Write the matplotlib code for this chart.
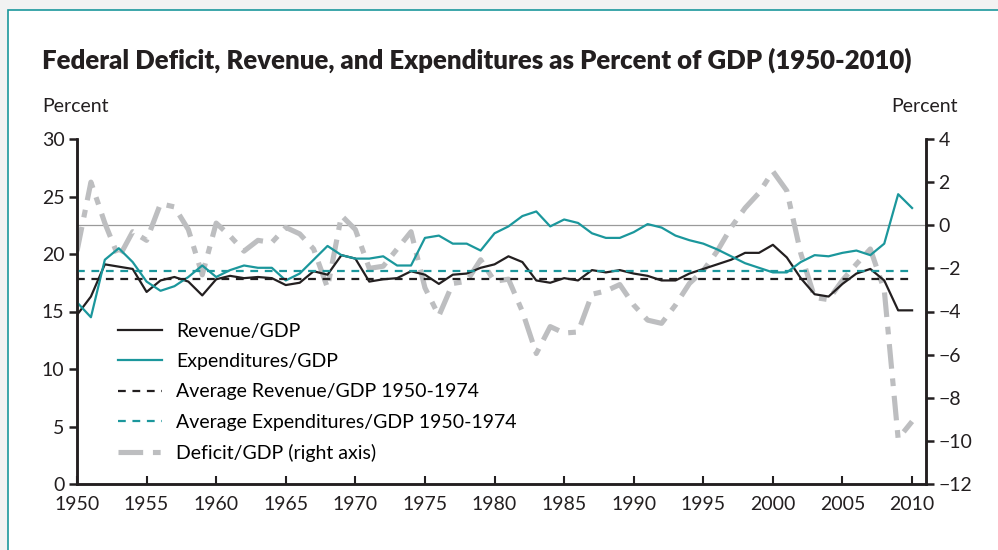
import matplotlib
matplotlib.use("Agg")
import matplotlib.pyplot as plt
from matplotlib.patches import Rectangle

plt.rcParams['font.family'] = ['Lato', 'DejaVu Sans']

years = list(range(1950, 2011))

revenue = [14.7, 16.3, 19.1, 18.9, 18.7, 16.7, 17.7, 18.0, 17.6, 16.4,
           17.8, 18.1, 17.9, 18.0, 17.9, 17.3, 17.5, 18.5, 18.2, 19.9,
           19.6, 17.6, 17.8, 17.9, 18.5, 18.2, 17.4, 18.2, 18.3, 18.8,
           19.1, 19.8, 19.3, 17.7, 17.5, 17.9, 17.7, 18.6, 18.4, 18.6,
           18.3, 18.1, 17.7, 17.7, 18.3, 18.7, 19.1, 19.5, 20.1, 20.1,
           20.8, 19.7, 17.9, 16.5, 16.3, 17.4, 18.3, 18.7, 17.7, 15.1,
           15.1]

expenditures = [15.8, 14.5, 19.5, 20.5, 19.3, 17.6, 16.8, 17.2, 18.0, 19.0,
                18.0, 18.6, 19.0, 18.8, 18.8, 17.7, 18.3, 19.5, 20.7, 19.9,
                19.6, 19.6, 19.8, 19.0, 19.0, 21.4, 21.6, 20.9, 20.9, 20.3,
                21.8, 22.4, 23.3, 23.7, 22.4, 23.0, 22.7, 21.8, 21.4, 21.4,
                21.9, 22.6, 22.3, 21.6, 21.2, 20.9, 20.4, 19.8, 19.2, 18.8,
                18.4, 18.4, 19.3, 19.9, 19.8, 20.1, 20.3, 19.9, 20.9, 25.2,
                24.0]

deficit = [-1.2, 2.0, 0.1, -1.5, -0.3, -0.7, 1.0, 0.85, -0.2, -2.3,
           0.1, -0.5, -1.2, -0.7, -0.8, -0.1, -0.4, -1.1, -2.9, 0.45,
           -0.2, -2.0, -1.9, -1.1, -0.3, -2.9, -4.2, -2.7, -2.6, -1.6,
           -2.6, -2.5, -4.0, -5.95, -4.7, -5.0, -4.95, -3.2, -3.05, -2.75,
           -3.7, -4.4, -4.55, -3.7, -2.7, -2.1, -1.2, -0.1, 0.8, 1.5,
           2.5, 1.6, -1.3, -3.35, -3.45, -2.55, -1.8, -1.1, -3.0, -9.9,
           -9.1]

avg_revenue = 17.8
avg_expenditures = 18.5

black = '#231f20'
teal = '#1b979c'
gray = '#bdbec0'

fig = plt.figure(figsize=(9.98, 5.5), dpi=100)
fig.patch.set_facecolor('#f2f2f2')
fig.patches.append(Rectangle((8 / 998, -0.1), 1.1, 1 - 10 / 550 + 0.1,
                             transform=fig.transFigure, facecolor='white',
                             edgecolor=teal, linewidth=1.2, zorder=-5))

ax = fig.add_axes([77 / 998, 1 - 484 / 550, (926 - 77) / 998, (484 - 139) / 550])
ax2 = ax.twinx()
ax.set_zorder(ax2.get_zorder() + 1)
ax.patch.set_visible(False)
ax2.patch.set_visible(False)

# right-axis zero line and deficit
ax2.axhline(0, color='#9a9a9a', lw=0.9, zorder=1)
d_line, = ax2.plot(years, deficit, color=gray, lw=3.7, dashes=(4.8, 1.9, 1.5, 1.9),
                   dash_capstyle='butt', label='Deficit/GDP (right axis)')

r_line, = ax.plot(years, revenue, color=black, lw=1.6, label='Revenue/GDP')
e_line, = ax.plot(years, expenditures, color=teal, lw=1.6, label='Expenditures/GDP')
ar_line, = ax.plot([years[0], years[-1]], [avg_revenue, avg_revenue], color=black,
                   lw=1.6, dashes=(3.5, 3), label='Average Revenue/GDP 1950-1974')
ae_line, = ax.plot([years[0], years[-1]], [avg_expenditures, avg_expenditures],
                   color=teal, lw=1.6, dashes=(3.5, 3),
                   label='Average Expenditures/GDP 1950-1974')

ax.set_xlim(1950, 2011)
ax.set_ylim(0, 30)
ax2.set_ylim(-12, 4)
ax.set_xticks(range(1950, 2011, 5))
ax.set_yticks(range(0, 31, 5))
ax2.set_yticks(range(-12, 5, 2))
ax2.set_yticklabels([str(v).replace('-', '\u2212') for v in range(-12, 5, 2)])

for a in (ax, ax2):
    a.spines['top'].set_visible(False)
    for s in ('left', 'right', 'bottom'):
        a.spines[s].set_linewidth(1.8)
        a.spines[s].set_color(black)
ax.tick_params(axis='y', direction='out', length=6, width=1.8, labelsize=14,
               colors=black, pad=3)
ax.tick_params(axis='x', direction='in', length=6, width=1.5, labelsize=14,
               colors=black, pad=9)
ax2.tick_params(axis='y', direction='out', length=6, width=1.8, labelsize=14,
                colors=black, pad=3)

fig.text(42 / 998, 1 - 60 / 550, 'Federal Deficit, Revenue, and Expenditures as Percent of GDP (1950-2010)',
         fontsize=18.5, fontweight='heavy', color=black, va='center', ha='left')
fig.text(42 / 998, 1 - 107 / 550, 'Percent', fontsize=14, color=black, va='center', ha='left')
fig.text(958 / 998, 1 - 107 / 550, 'Percent', fontsize=14, color=black, va='center', ha='right')

ax.legend(handles=[r_line, e_line, ar_line, ae_line, d_line], loc='upper left',
          bbox_to_anchor=(0.048, 0.467), frameon=False, fontsize=14,
          handlelength=2.3, handletextpad=0.7, labelspacing=0.68, borderaxespad=0,
          borderpad=0)

fig.savefig('out.png', dpi=100, facecolor=fig.get_facecolor())
